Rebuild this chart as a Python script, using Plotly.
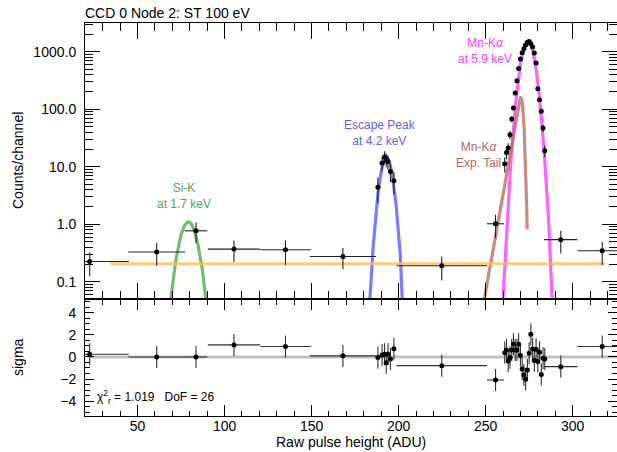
import math
import numpy as np
import plotly.graph_objects as go

# ---- Binned spectrum (Raw pulse height, ADU) ----
bin_center = [22.5, 61.0, 83.6, 105.4, 135.0, 168.0,
              188.1, 190.5, 191.9, 192.9, 193.9, 195.3, 197.3,
              224.8, 255.7,
              261, 262, 263, 264, 265, 266, 267, 268, 269, 270, 271, 272,
              273, 274, 275, 276, 277, 278, 279, 280, 281, 282, 283, 284,
              293.2, 317.0]
bin_half = [22.5, 16.3, 6.5, 15.0, 14.5, 19.0,
            0.5, 0.5, 0.5, 0.5, 0.5, 0.5, 0.5,
            26.0, 4.9,
            0.5, 0.5, 0.5, 0.5, 0.5, 0.5, 0.5, 0.5, 0.5, 0.5, 0.5, 0.5,
            0.5, 0.5, 0.5, 0.5, 0.5, 0.5, 0.5, 0.5, 0.5, 0.5, 0.5, 0.5,
            9.6, 14.3]
counts = [0.225, 0.33, 0.77, 0.37, 0.36, 0.275,
          4.4, 11.6, 14.8, 13.4, 12.4, 8.3, 5.7,
          0.19, 1.02,
          11.3, 17.7, 21.1, 36, 67.6, 105, 191, 313, 513, 747, 961, 1128,
          1308, 1452, 1513, 1378, 1208, 949, 636, 228, 146, 92, 47, 19,
          0.54, 0.346]
counts_err = [0.10, 0.14, 0.30, 0.15, 0.165, 0.11,
              2.1, 3.4, 3.8, 3.7, 3.5, 2.9, 2.4,
              0.085, 0.44,
              3.4, 4.2, 4.6, 6.0, 8.2, 10.2, 13.8, 17.7, 22.6, 27.3, 31.0, 33.6,
              36.2, 38.1, 38.9, 37.1, 34.8, 30.8, 25.2, 15.1, 12.1, 9.6, 6.9, 4.4,
              0.23, 0.15]
sigma_resid = [0.25, 0.0, 0.0, 1.09, 0.94, 0.10,
               -0.06, 0.18, 0.25, -0.52, 0.25, -0.18, 0.75,
               -0.79, -2.09,
               0.39, 0.64, -0.36, -0.06, 0.64, 1.15, 0.64, 0.64, 1.15, 0.12, -1.09, -1.64,
               -2.03, -1.18, 0.33, 2.06, 0.73, -0.33, 0.70, -0.42, 0.42, -1.58, -0.12, -0.18,
               -0.88, 0.94]

# ---- Fitted model components ----
bkg_level = 0.205
bkg_span = [34.3, 318.6]
sik = dict(amp=1.1, mu=79.2, sig=4.1)         # Si-K at 1.7 keV
esc = dict(amp=14.5, mu=193.0, sig=2.85)      # escape peak at 4.2 keV
mnka = dict(amp=1550.0, mu=274.3, sig=3.14)   # Mn-Ka at 5.9 keV
tail = dict(amp=295.0, mu=271.3, tau=2.52, sig=0.95, stop=273.9)  # Mn-Ka exp. tail

chi2_r = 1.019
dof = 26

FONT = "Liberation Sans, Arial, Helvetica, sans-serif"


def gauss(p, lo, hi, n=400):
    x = np.linspace(lo, hi, n)
    return x, p["amp"] * np.exp(-0.5 * ((x - p["mu"]) / p["sig"]) ** 2)


def exp_tail(p, lo, n=400):
    x = np.linspace(lo, p["stop"], n)
    s, t = p["sig"], p["tau"]
    y = [p["amp"] * math.exp((xi - p["mu"]) / t + s * s / (2 * t * t))
         * 0.5 * math.erfc(((xi - p["mu"]) / s + s / t) / math.sqrt(2)) for xi in x]
    return x, np.array(y)


fig = go.Figure()

# model curves (top panel)
xs, ys = gauss(sik, sik["mu"] - 6 * sik["sig"], sik["mu"] + 6 * sik["sig"])
fig.add_trace(go.Scatter(x=xs, y=ys, mode="lines",
                         line=dict(color="rgba(80,170,80,0.8)", width=3.2), hoverinfo="skip"))
xs, ys = gauss(esc, esc["mu"] - 6 * esc["sig"], esc["mu"] + 6 * esc["sig"])
fig.add_trace(go.Scatter(x=xs, y=ys, mode="lines",
                         line=dict(color="rgba(100,100,250,0.85)", width=3.2), hoverinfo="skip"))
xs, ys = gauss(mnka, mnka["mu"] - 6 * mnka["sig"], mnka["mu"] + 6 * mnka["sig"])
fig.add_trace(go.Scatter(x=xs, y=ys, mode="lines",
                         line=dict(color="rgba(255,70,255,0.85)", width=3.2), hoverinfo="skip"))
xs, ys = exp_tail(tail, 240.0)
fig.add_trace(go.Scatter(x=xs, y=ys, mode="lines",
                         line=dict(color="rgba(185,110,100,0.8)", width=3.2), hoverinfo="skip"))
fig.add_trace(go.Scatter(x=bkg_span, y=[bkg_level, bkg_level], mode="lines",
                         line=dict(color="rgba(255,190,80,0.8)", width=3), hoverinfo="skip"))

# data points with bin widths and errors
fig.add_trace(go.Scatter(
    x=bin_center, y=counts, mode="markers",
    marker=dict(color="black", size=5),
    error_x=dict(type="data", array=bin_half, color="#222", thickness=1.1, width=0),
    error_y=dict(type="data", array=counts_err, color="#222", thickness=1.1, width=0),
    xaxis="x", yaxis="y"))

# residual panel
fig.add_trace(go.Scatter(x=[22.5, 325.5], y=[0, 0], mode="lines",
                         line=dict(color="rgba(185,185,185,0.9)", width=3),
                         xaxis="x2", yaxis="y2", hoverinfo="skip"))
fig.add_trace(go.Scatter(
    x=bin_center, y=sigma_resid, mode="markers",
    marker=dict(color="black", size=5),
    error_x=dict(type="data", array=bin_half, color="#333", thickness=1.1, width=0),
    error_y=dict(type="constant", value=1.0, color="#333", thickness=1.1, width=0),
    xaxis="x2", yaxis="y2"))

XR = [19.8, 325.5]
split = 0.2977

log_minor = [m * 10.0 ** e for e in range(-2, 4) for m in range(2, 10)]

axis_common = dict(showline=True, linecolor="black", linewidth=1, mirror="ticks",
                   ticks="inside", tickcolor="black", tickwidth=1,
                   showgrid=False, zeroline=False,
                   tickfont=dict(family=FONT, size=14, color="black"))

fig.update_layout(
    width=617, height=452,
    margin=dict(l=85, r=0, t=23, b=36),
    paper_bgcolor="white", plot_bgcolor="white",
    showlegend=False,
    font=dict(family=FONT, size=14, color="black"),
    title=dict(text="CCD 0 Node 2: ST 100 eV", x=85 / 617, xanchor="left",
               y=1 - 12.7 / 452, yanchor="middle",
               font=dict(family=FONT, size=14, color="black")),
    xaxis=dict(range=XR, domain=[0, 1], anchor="y", showticklabels=False,
               dtick=50, tick0=0, ticklen=16,
               minor=dict(ticks="inside", dtick=10, ticklen=8, tickcolor="black", showgrid=False),
               **axis_common),
    yaxis=dict(type="log", range=[-1.3, 3.5], domain=[split, 1], anchor="x",
               tickmode="array", tickvals=[0.1, 1, 10, 100, 1000],
               ticktext=["0.1", "1.0", "10.0", "100.0", "1000.0"],
               ticklen=15, ticklabelstandoff=5,
               minor=dict(ticks="inside", tickvals=log_minor, ticklen=8,
                          tickcolor="black", showgrid=False),
               **axis_common),
    xaxis2=dict(range=XR, domain=[0, 1], anchor="y2",
                dtick=50, tick0=0, ticklen=11, ticklabelstandoff=-3,
                minor=dict(ticks="inside", dtick=10, ticklen=5.5, tickcolor="black", showgrid=False),
                **axis_common),
    yaxis2=dict(range=[-5.35, 5.25], domain=[0, split], anchor="x2",
                tickmode="array", tickvals=[-4, -2, 0, 2, 4],
                ticklen=9, ticklabelstandoff=5,
                minor=dict(ticks="inside", dtick=0.5, ticklen=5, tickcolor="black", showgrid=False),
                **axis_common),
)

PW = 617 - 85
PH = 452 - 23 - 36


def px(xp):
    return (xp - 85) / PW


def py(yp):
    return (452 - 36 - yp) / PH


notes = [
    ("Si-K<br>at 1.7 keV", 184, 196, "rgb(80,165,80)"),
    ("Escape Peak<br>at 4.2 keV", 380, 133, "rgb(95,95,245)"),
    ("Mn-K<i>α</i><br>at 5.9 keV", 485, 51.5, "rgb(250,60,250)"),
    ("Mn-K<i>α</i><br>Exp. Tail", 478, 155, "rgb(180,100,95)"),
]
for txt, xp, yp, col in notes:
    fig.add_annotation(text=txt, x=px(xp), y=py(yp), xref="paper", yref="paper",
                       showarrow=False, xanchor="center", yanchor="middle",
                       font=dict(family=FONT, size=12, color=col))

fig.add_annotation(text="Counts/channel", textangle=-90, x=px(18), y=py(161),
                   xref="paper", yref="paper", showarrow=False,
                   xanchor="center", yanchor="middle", font=dict(family=FONT, size=14))
fig.add_annotation(text="sigma", textangle=-90, x=px(18), y=py(357),
                   xref="paper", yref="paper", showarrow=False,
                   xanchor="center", yanchor="middle", font=dict(family=FONT, size=14))
fig.add_annotation(text="Raw pulse height (ADU)", x=px(351), y=py(442),
                   xref="paper", yref="paper", showarrow=False,
                   xanchor="center", yanchor="middle", font=dict(family=FONT, size=14))

# reduced chi-square and degrees of freedom
fig.add_annotation(text=f"χ<sup>2</sup><sub>r</sub> = {chi2_r:.3f}   DoF = {dof}",
                   x=px(95), y=py(397), xref="paper", yref="paper", showarrow=False,
                   xanchor="left", yanchor="middle", font=dict(family=FONT, size=12))

fig.write_html("out.html")
